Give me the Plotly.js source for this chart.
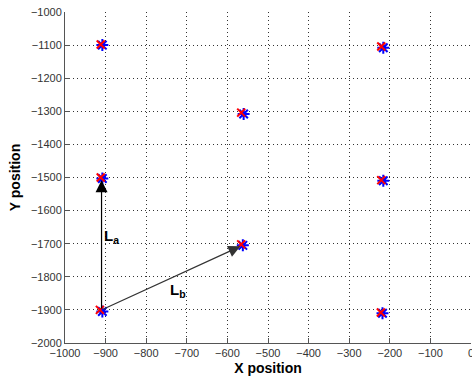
<!DOCTYPE html>
<html><head><meta charset="utf-8">
<script src="https://cdn.plot.ly/plotly-3.0.1.min.js"></script>
<style>html,body{margin:0;padding:0;background:#fff}#chart{width:472px;height:383px}</style>
</head><body><div id="chart"></div>
<script>
// Estimated positions (blue = measured, red = reference)
const blueX = [-908, -216, -560, -908, -216, -562, -908, -218];
const blueY = [-1100, -1108, -1308, -1503, -1510, -1705, -1905, -1910];
const redX  = [-912, -221, -566, -912, -221, -566, -914, -222];
const redY  = [-1098, -1104, -1304, -1500, -1508, -1702, -1900, -1908];
const arrowStartX = [-910, -910];
const arrowStartY = [-1900, -1900];
const arrowEndX = [-910, -568];
const arrowEndY = [-1508, -1708];
const labelText = ['<b>L<sub>a</sub></b>', '<b>L<sub>b</sub></b>'];
const labelX = [-885, -722];
const labelY = [-1678, -1842];
const xTicks = [-1000,-900,-800,-700,-600,-500,-400,-300,-200,-100,0];
const yTicks = [-2000,-1900,-1800,-1700,-1600,-1500,-1400,-1300,-1200,-1100,-1000];

const traces = [
  {x: blueX, y: blueY, mode: 'markers', type: 'scatter',
   marker: {symbol: 'asterisk-open', size: 10, color: '#0000ff', line: {color: '#0000ff', width: 2}}},
  {x: redX, y: redY, mode: 'markers', type: 'scatter',
   marker: {symbol: 'x-thin-open', size: 8, color: '#ff0000', line: {color: '#ff0000', width: 2}}}
];

const annotations = [];
for (let i = 0; i < arrowStartX.length; i++) {
  annotations.push({x: arrowEndX[i], y: arrowEndY[i], ax: arrowStartX[i], ay: arrowStartY[i],
    xref: 'x', yref: 'y', axref: 'x', ayref: 'y', showarrow: true, arrowhead: 2,
    arrowsize: 2, arrowwidth: 1.2, arrowcolor: i === 0 ? '#000' : '#333', text: ''});
}
for (let i = 0; i < labelText.length; i++) {
  annotations.push({x: labelX[i], y: labelY[i], xref: 'x', yref: 'y', showarrow: false,
    text: labelText[i], font: {family: 'Arial, Liberation Sans', size: 15, color: '#000'}});
}

const axisCommon = {
  showline: true, linecolor: '#555', linewidth: 1, mirror: false,
  ticks: 'inside', ticklen: 5, tickcolor: '#555',
  showgrid: true, gridcolor: '#333', griddash: '1px,3px', gridwidth: 1,
  zeroline: false, ticklabeloverflow: 'allow',
  tickfont: {family: 'Arial, Liberation Sans', size: 11, color: '#333'}
};

const layout = {
  width: 472, height: 383,
  margin: {l: 65, r: 1, t: 12, b: 40},
  paper_bgcolor: '#fff', plot_bgcolor: '#fff',
  showlegend: false,
  xaxis: Object.assign({}, axisCommon, {range: [-1000, 0], tickvals: xTicks,
    title: {text: '<b>X position</b>', font: {family: 'Arial, Liberation Sans', size: 14, color: '#000'}, standoff: 4}}),
  yaxis: Object.assign({}, axisCommon, {range: [-2000, -1000], tickvals: yTicks,
    title: {text: '<b>Y position</b>', font: {family: 'Arial, Liberation Sans', size: 14, color: '#000'}, standoff: 6}}),
  annotations: annotations
};

Plotly.newPlot('chart', traces, layout, {displayModeBar: false, staticPlot: true});
</script></body></html>
